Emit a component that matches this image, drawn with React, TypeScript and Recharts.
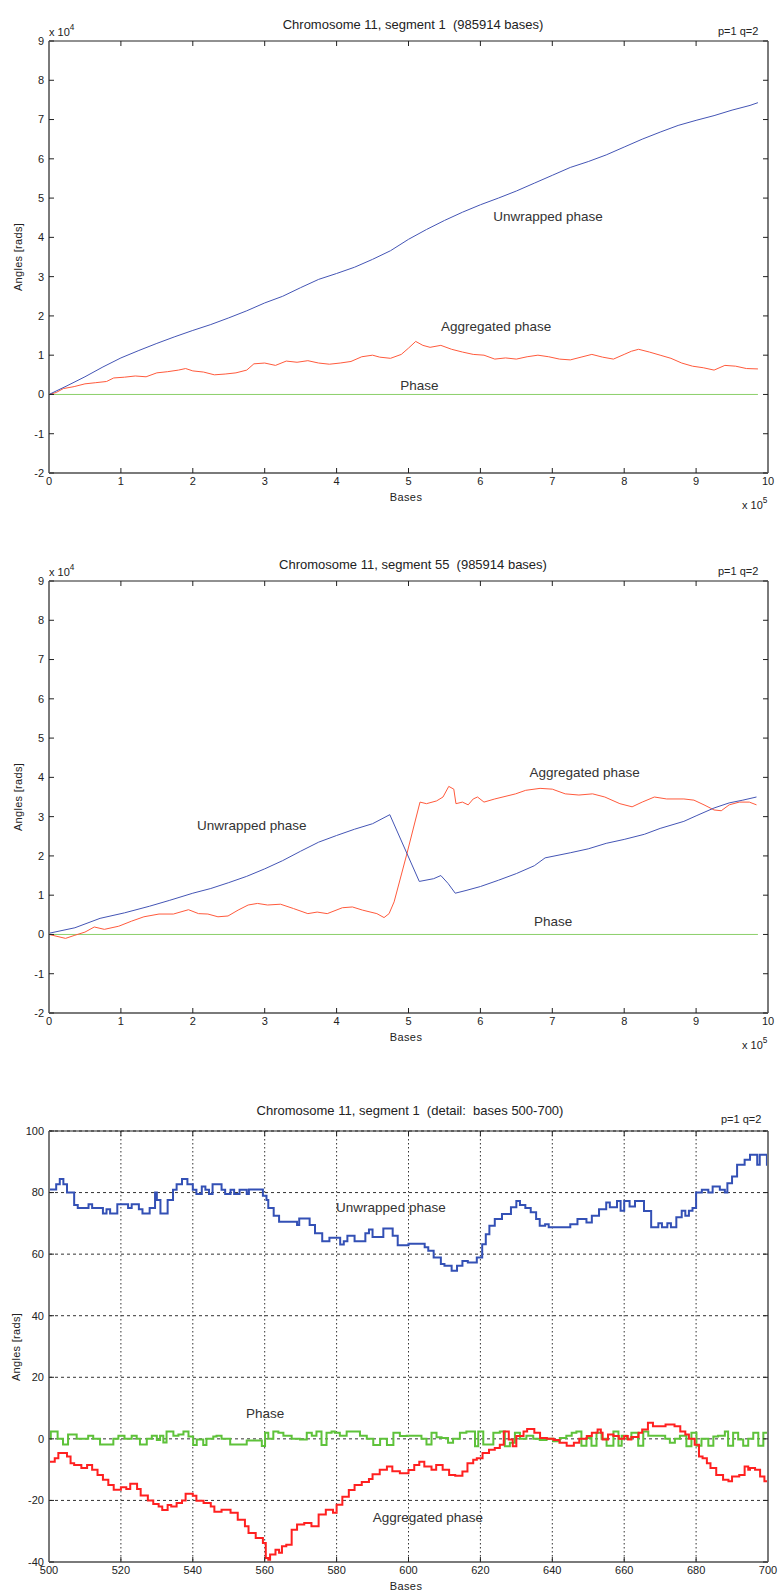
import React from 'react';
import { LineChart, Line, XAxis, YAxis, CartesianGrid, ReferenceDot } from 'recharts';

const FONT = '"Liberation Sans", Arial, Helvetica, sans-serif';

// ---------- shared ticks ----------
const bigXTicks = [0, 1, 2, 3, 4, 5, 6, 7, 8, 9, 10];
const bigYTicks = [-2, -1, 0, 1, 2, 3, 4, 5, 6, 7, 8, 9];
const detXTicks = [500, 520, 540, 560, 580, 600, 620, 640, 660, 680, 700];
const detYTicks = [-40, -20, 0, 20, 40, 60, 80, 100];

// ---------- Panel 1: segment 1 (x in 1e5 bases, y in 1e4 rads) ----------
const p1Unwrapped: [number, number][] = [
  [0, 0], [0.25, 0.22], [0.5, 0.45], [0.75, 0.7], [1, 0.93], [1.25, 1.12], [1.5, 1.3], [1.75, 1.47],
  [2, 1.63], [2.25, 1.78], [2.5, 1.95], [2.75, 2.13], [3, 2.33], [3.25, 2.5], [3.5, 2.72], [3.75, 2.93],
  [4, 3.08], [4.25, 3.24], [4.5, 3.44], [4.75, 3.66], [5, 3.95], [5.25, 4.2], [5.5, 4.43], [5.75, 4.64],
  [6, 4.83], [6.25, 5.0], [6.5, 5.18], [6.75, 5.38], [7, 5.58], [7.25, 5.78], [7.5, 5.93], [7.75, 6.1],
  [8, 6.3], [8.25, 6.5], [8.5, 6.68], [8.75, 6.85], [9, 6.98], [9.25, 7.1], [9.5, 7.24], [9.75, 7.36], [9.86, 7.43],
];
const p1Aggregated: [number, number][] = [
  [0, 0], [0.1, 0.05], [0.2, 0.15], [0.35, 0.2], [0.5, 0.27], [0.65, 0.3], [0.8, 0.33], [0.9, 0.42],
  [1.05, 0.44], [1.2, 0.47], [1.35, 0.45], [1.5, 0.55], [1.65, 0.58], [1.8, 0.62], [1.9, 0.66], [2.0, 0.6],
  [2.15, 0.57], [2.3, 0.5], [2.45, 0.52], [2.6, 0.55], [2.75, 0.62], [2.85, 0.78], [3.0, 0.8], [3.15, 0.74],
  [3.3, 0.85], [3.45, 0.82], [3.6, 0.86], [3.75, 0.8], [3.9, 0.77], [4.05, 0.8], [4.2, 0.84], [4.35, 0.96],
  [4.5, 1.0], [4.6, 0.95], [4.75, 0.92], [4.9, 1.02], [5.0, 1.18], [5.1, 1.35], [5.2, 1.25], [5.3, 1.2],
  [5.45, 1.25], [5.6, 1.15], [5.75, 1.08], [5.9, 1.02], [6.05, 1.0], [6.2, 0.9], [6.35, 0.93], [6.5, 0.9],
  [6.65, 0.96], [6.8, 1.0], [6.95, 0.96], [7.1, 0.9], [7.25, 0.88], [7.4, 0.95], [7.55, 1.02], [7.7, 0.95],
  [7.85, 0.9], [8.0, 1.02], [8.1, 1.1], [8.2, 1.15], [8.35, 1.08], [8.5, 1.0], [8.65, 0.92], [8.8, 0.8],
  [8.95, 0.72], [9.1, 0.68], [9.25, 0.62], [9.4, 0.74], [9.55, 0.72], [9.7, 0.66], [9.86, 0.65],
];
const p1Phase: [number, number][] = [[0, 0], [9.86, 0]];

// ---------- Panel 2: segment 55 ----------
const p2Unwrapped: [number, number][] = [
  [0, 0.03], [0.36, 0.17], [0.71, 0.41], [1.05, 0.55], [1.4, 0.72], [1.68, 0.87], [2, 1.05], [2.25, 1.17],
  [2.5, 1.32], [2.75, 1.48], [3, 1.67], [3.25, 1.88], [3.5, 2.12], [3.75, 2.35], [4, 2.52], [4.25, 2.68],
  [4.5, 2.82], [4.74, 3.05], [5.15, 1.35], [5.35, 1.42], [5.45, 1.5], [5.55, 1.3], [5.65, 1.05], [5.8, 1.12],
  [6, 1.22], [6.25, 1.38], [6.5, 1.55], [6.75, 1.75], [6.9, 1.95], [7.25, 2.08], [7.5, 2.18], [7.75, 2.32],
  [8, 2.42], [8.28, 2.55], [8.5, 2.7], [8.83, 2.88], [9, 3.02], [9.25, 3.22], [9.46, 3.35], [9.65, 3.42], [9.84, 3.5],
];
const p2Aggregated: [number, number][] = [
  [0, 0], [0.23, -0.1], [0.36, -0.02], [0.5, 0.06], [0.63, 0.19], [0.77, 0.13], [0.97, 0.21], [1.15, 0.34],
  [1.32, 0.45], [1.53, 0.52], [1.73, 0.52], [1.94, 0.63], [2.08, 0.53], [2.21, 0.52], [2.35, 0.45], [2.49, 0.47],
  [2.63, 0.62], [2.77, 0.75], [2.9, 0.79], [3.04, 0.75], [3.22, 0.77], [3.4, 0.66], [3.6, 0.53], [3.73, 0.57],
  [3.87, 0.53], [4.08, 0.68], [4.22, 0.7], [4.36, 0.62], [4.56, 0.53], [4.66, 0.43], [4.73, 0.53], [4.8, 0.83],
  [4.97, 2.0], [5.16, 3.37], [5.25, 3.33], [5.39, 3.4], [5.48, 3.5], [5.56, 3.77], [5.63, 3.7], [5.66, 3.33],
  [5.75, 3.37], [5.83, 3.3], [5.9, 3.45], [5.96, 3.5], [6.05, 3.37], [6.2, 3.45], [6.49, 3.58], [6.63, 3.67],
  [6.83, 3.72], [7.0, 3.7], [7.18, 3.58], [7.37, 3.55], [7.56, 3.58], [7.73, 3.5], [7.94, 3.33], [8.11, 3.25],
  [8.25, 3.37], [8.42, 3.5], [8.59, 3.45], [8.83, 3.45], [8.97, 3.42], [9.11, 3.3], [9.25, 3.17], [9.35, 3.15],
  [9.46, 3.3], [9.6, 3.37], [9.74, 3.37], [9.84, 3.3],
];
const p2Phase: [number, number][] = [[0, 0], [9.86, 0]];

// ---------- Panel 3: detail, bases 500-700 (step series) ----------
const p3Unwrapped: [number, number][] = [
  [500, 81], [502, 82.7], [503, 84.4], [504, 82.7], [505, 80], [507, 76], [508, 75], [511, 76.2], [512, 75],
  [515, 73.2], [516, 74.6], [517, 73.2], [519, 76.2], [522, 75], [523, 76.2], [525, 74.6], [526, 73.2], [528, 75],
  [529.5, 80], [530, 77.6], [531, 73.2], [533, 77.6], [534.5, 80.9], [535.5, 82.7], [537, 84.4], [538.5, 82.7],
  [540, 80.9], [541, 79.5], [542.5, 82], [543.5, 80.9], [544.5, 79.5], [545.5, 82.7], [548, 80.9], [549, 79.5],
  [550.5, 80.9], [551.5, 79.5], [553, 80.9], [555, 79.5], [555.6, 81], [559.5, 79], [560.5, 77.6], [561, 75],
  [562.5, 72.5], [564, 70.5], [569, 69.5], [569.6, 71.6], [572.5, 69.5], [574, 66.8], [576, 64.2], [578, 65.3],
  [581, 63.1], [582, 64.2], [583, 66], [585, 64.2], [588, 66.8], [589, 68], [590, 65.6], [593, 68.3], [595.6, 66],
  [597, 62.9], [600, 63.4], [604.5, 62.2], [605.5, 61.1], [607, 58.9], [609, 56.8], [610, 56.2], [612, 54.6],
  [613.5, 56.2], [615, 57.8], [616.5, 57.3], [619, 58.9], [620.5, 63.2], [621.5, 66.5], [622.5, 69.2], [624, 71.4],
  [626, 73], [628.5, 75.2], [630, 77.3], [631, 76], [632.5, 75], [634, 73.6], [635.5, 71.4], [636.5, 69.2],
  [638, 69.7], [639, 68.7], [645, 69.7], [647, 71.4], [649.5, 70.3], [651, 72.5], [653, 74.6], [655, 76.8],
  [656, 75.2], [658, 77.3], [659, 74.1], [660, 77.3], [661.5, 75.5], [663, 77.3], [665.5, 74], [667.5, 68.7],
  [669.5, 70], [670.5, 68.7], [672, 70], [673, 68.7], [674.5, 72], [676, 74.1], [677, 72.5], [678, 74.1],
  [679, 75], [680, 80], [681.6, 80.9], [683.4, 80], [684.6, 82], [686.6, 80.9], [688, 80], [688.7, 83],
  [690, 85.2], [691.4, 89], [693.5, 90.7], [695, 92.3], [697, 89], [697.7, 92.3], [699.7, 89], [700, 89],
];
const p3Aggregated: [number, number][] = [
  [500, -7.4], [501.6, -6.3], [502.6, -4.6], [505, -5.7], [506, -7.9], [507, -8.5], [509, -9.5], [510.6, -8.5],
  [512, -10], [513.5, -11.7], [515, -13.3], [516.5, -15], [518, -16.5], [520, -15.7], [521.5, -16.3], [522.6, -14.6],
  [524.5, -16.3], [525.5, -18.4], [527.5, -20], [529, -21.2], [530.5, -22], [531.5, -23.1], [533, -21.5], [534, -22],
  [535.5, -20.8], [537, -20], [538, -17.8], [540, -18.5], [541, -20.1], [543, -20.8], [545, -22], [546, -23.7],
  [548, -23], [550.5, -24], [552.5, -26.3], [554.5, -28.4], [555.5, -30.6], [557.5, -32.2], [559.5, -33.8],
  [560.3, -38.7], [561, -39.3], [561.5, -37.6], [563, -36], [564, -37], [564.8, -34.9], [566, -34.4],
  [567.5, -29.5], [569, -27.8], [571, -27.3], [573, -28.4], [575, -24.6], [577, -23], [579, -24], [580, -21.4],
  [581.6, -18.8], [583.4, -16.6], [585, -15], [587, -14], [589, -13], [590, -11.5], [592, -10], [594, -9],
  [595.5, -10.5], [597.6, -11.2], [600, -10.1], [601.6, -8.5], [603, -7.4], [604.4, -9], [606.4, -10],
  [607.7, -8.5], [609.5, -10], [611.3, -11.7], [613, -12], [615, -10.6], [616.4, -7.9], [618, -6.8], [619, -6.3],
  [620.6, -4.6], [622.4, -3.5], [624, -3], [625.4, -1.9], [626.5, 2.4], [627.9, -0.2], [629, -2.4], [630, 0.9],
  [632, 2.4], [633, 3.2], [635, 2], [636.6, 0.3], [638.5, 0], [640.4, -0.4], [642, -1.3], [644, -2.2],
  [646, -1.3], [647.5, 0], [649.6, 0.9], [651, 2], [652.6, 3], [653.5, 2], [654, -0.2], [655.5, 1.4], [657, 0.9],
  [658.5, 0], [660, 0.9], [661, -0.2], [662, 0.6], [664, 2], [665, 3], [666.6, 5.2], [668, 4.1], [671.5, 4.7],
  [674, 4.1], [675.6, 2.4], [677, 1.4], [678, 0], [679.6, -1.9], [680.8, -5.7], [681.8, -6.3], [683, -7.9],
  [684, -9.5], [685.6, -11.7], [687.5, -13.3], [689, -13.8], [690, -12.2], [692, -11.7], [693.5, -9],
  [694.5, -10], [695, -9.5], [696.4, -10], [697.8, -12.2], [699, -13.8], [700, -12],
];
const p3Phase: [number, number][] = [
  [500, 0], [500.5, 2.4], [502.4, 0], [503.9, -1.8], [505.3, 1.4], [507.7, 0], [510.9, 1], [512.3, 0],
  [514.2, -1.8], [517.9, 0], [519.3, 1], [521, 0], [523, 1], [524.4, 0], [525.3, -1.8], [527.2, 0], [528.6, 1],
  [530, -0.4], [530.9, 1], [531.8, -1.2], [532.7, 2.4], [534.6, 1], [536, 1.4], [537.4, 2.4], [538.8, 0.8],
  [540.1, -2], [541.1, -0.2], [542.9, -2], [543.8, 0], [545.7, 0.8], [546.6, 1], [548, 0], [550.4, -1.8],
  [555, -0.5], [559.2, -2.3], [560.1, 2], [561, 0], [562.4, 2.4], [563.8, 2], [565.2, 1], [567.5, 0],
  [569.8, -0.2], [571.7, 2], [573.1, 1], [574.4, 2.4], [575.8, -2], [577.2, 2], [578.6, 2.4], [579.5, 2],
  [580.9, 1], [582.8, 2.4], [586.5, 1], [588.4, 0], [590.2, -2], [592.1, 0], [594, -2], [595.8, 2],
  [597.6, 0.9], [599.5, 1], [603.6, 0], [605, -1.8], [606.4, 2], [607.8, 0.5], [609.2, 0.3], [611, -1.3],
  [612.4, 0], [614.3, 2], [616.1, 2.4], [618.5, -2.4], [619.4, 2.4], [620.8, -1.8], [623.6, 2], [625.4, 2.4],
  [626.8, -2.4], [628.2, -1.3], [629.6, 2], [631, 0], [632.8, 1], [634.7, 0], [636.5, -0.4], [638.4, 0],
  [640.2, -0.8], [642.1, 0.3], [643.9, 1], [645.4, 2], [646.7, 2.4], [648.1, -2.2], [649.5, 0.3], [650.9, -2.2],
  [652.3, 2], [653.7, 0], [655.1, -2.2], [657, 2.4], [658.4, -2.2], [659.3, 1], [660.7, 0], [662, 2],
  [663.9, -2.2], [665.3, 2.4], [666.7, 1], [671.4, 0], [672.7, -1.3], [674.1, 0], [675.5, 1], [677.3, -2.4],
  [678.7, 2], [680.1, -2.2], [681.5, 0], [683.4, -2.2], [684.8, 0.8], [686.1, 1], [688, 2.4], [688.9, -2.2],
  [690.3, 2], [691.7, -0.2], [693.1, -2.2], [694.5, 0], [695.9, 2], [697.3, -2.2], [698.7, 2], [700, 2],
];

const toPts = (arr: [number, number][]) => arr.map(([x, y]) => ({ x, y }));

type Series = { name: string; data: [number, number][]; color: string; width: number; step?: boolean };
type Note = { x: number; y: number; text: string };

const W = 778;
const PLOT_LEFT = 49;
const PLOT_RIGHT = 768;
const AXIS_GRAY = '#7a7a7a';

function Panel(props: {
  top: number; plotTop: number; plotBottom: number;
  xDomain: [number, number]; xTicks: number[]; yDomain: [number, number]; yTicks: number[];
  series: Series[]; notes: Note[]; grid?: boolean;
}) {
  const { top, plotTop, plotBottom, xDomain, xTicks, yDomain, yTicks, series, notes, grid } = props;
  const chartH = plotBottom - top + 40;
  const tickStyle = { fontSize: 11, fill: '#222', fontFamily: FONT };
  const noLabel = () => <g />;
  return (
    <div style={{ position: 'absolute', left: 0, top }}>
      <LineChart
        width={W}
        height={chartH}
        margin={{ top: plotTop - top - 1, right: W - PLOT_RIGHT - 1, bottom: 10, left: 0 }}
      >
        {grid && (
          <CartesianGrid xAxisId="b" yAxisId="l" vertical={false} stroke="#333" strokeDasharray="3 3" strokeWidth={1} />
        )}
        {grid && (
          <CartesianGrid xAxisId="b" yAxisId="l" horizontal={false} stroke="#333" strokeDasharray="1.5 2.5" strokeWidth={1} />
        )}
        <XAxis
          xAxisId="b" type="number" dataKey="x" domain={xDomain} ticks={xTicks} allowDataOverflow interval={0}
          height={30} tickSize={-5} tickMargin={9}
          axisLine={{ stroke: AXIS_GRAY, strokeWidth: 2 }} tickLine={{ stroke: '#222' }} tick={tickStyle}
        />
        <XAxis
          xAxisId="t" orientation="top" type="number" dataKey="x" domain={xDomain} ticks={xTicks} allowDataOverflow interval={0}
          height={1} tickSize={-5} axisLine={{ stroke: '#222', strokeWidth: 1 }} tickLine={{ stroke: '#222' }} tick={noLabel}
        />
        <YAxis
          yAxisId="l" type="number" domain={yDomain} ticks={yTicks} allowDataOverflow interval={0}
          width={PLOT_LEFT} tickSize={-5} tickMargin={10}
          axisLine={{ stroke: AXIS_GRAY, strokeWidth: 2 }} tickLine={{ stroke: '#222' }} tick={tickStyle}
        />
        <YAxis
          yAxisId="r" orientation="right" type="number" domain={yDomain} ticks={yTicks} allowDataOverflow interval={0}
          width={1} tickSize={-5} axisLine={{ stroke: AXIS_GRAY, strokeWidth: 2 }} tickLine={{ stroke: '#222' }} tick={noLabel}
        />
        {series.map((s) => (
          <Line
            key={s.name}
            xAxisId="b"
            yAxisId="l"
            data={toPts(s.data)}
            dataKey="y"
            type={s.step ? 'stepAfter' : 'linear'}
            stroke={s.color}
            strokeWidth={s.width}
            dot={false}
            activeDot={false}
            isAnimationActive={false}
          />
        ))}
        {notes.map((n) => (
          <ReferenceDot
            key={n.text}
            xAxisId="b"
            yAxisId="l"
            x={n.x}
            y={n.y}
            r={0}
            fill="none"
            stroke="none"
            ifOverflow="visible"
            label={{ value: n.text, position: 'center', fill: '#333', fontSize: 13.5, fontFamily: FONT }}
          />
        ))}
      </LineChart>
    </div>
  );
}

function T(props: { x: number; y: number; size: number; anchor?: 'left' | 'center'; rotate?: boolean; spacing?: number; children: React.ReactNode }) {
  const { x, y, size, anchor = 'center', rotate, spacing = 0, children } = props;
  const tx = anchor === 'center' ? '-50%' : '0';
  return (
    <div
      style={{
        position: 'absolute', left: x, top: y, fontFamily: FONT, fontSize: size, color: '#222',
        whiteSpace: 'nowrap', lineHeight: 1, letterSpacing: spacing,
        transform: `translate(${tx}, -50%)${rotate ? ' rotate(-90deg)' : ''}`,
      }}
    >
      {children}
    </div>
  );
}

function Exp({ base, power }: { base: string; power: string }) {
  return (
    <span>
      {base}
      <sup style={{ fontSize: '0.75em', position: 'relative', top: '-0.1em' }}>{power}</sup>
    </span>
  );
}

export default function App() {
  const blue = '#4455b5';
  const red = '#ff5a3c';
  const green = '#8ccf6a';
  return (
    <div style={{ position: 'absolute', left: 0, top: 0, width: W, height: 1593, background: '#fff' }}>
      {/* Panel 1 */}
      <T x={413} y={24} size={13}>Chromosome 11, segment 1&nbsp; (985914 bases)</T>
      <T x={718} y={31} size={11} anchor="left">p=1 q=2</T>
      <T x={49} y={31} size={11} anchor="left"><Exp base="x 10" power="4" /></T>
      <Panel
        top={0} plotTop={41} plotBottom={473}
        xDomain={[0, 10]} xTicks={bigXTicks} yDomain={[-2, 9]} yTicks={bigYTicks}
        series={[
          { name: 'Phase', data: p1Phase, color: green, width: 1 },
          { name: 'Aggregated phase', data: p1Aggregated, color: red, width: 1 },
          { name: 'Unwrapped phase', data: p1Unwrapped, color: blue, width: 1 },
        ]}
        notes={[
          { x: 6.94, y: 4.53, text: 'Unwrapped phase' },
          { x: 6.22, y: 1.73, text: 'Aggregated phase' },
          { x: 5.15, y: 0.23, text: 'Phase' },
        ]}
      />
      <T x={406} y={497} size={11} spacing={0.4}>Bases</T>
      <T x={742} y={504} size={11} anchor="left"><Exp base="x 10" power="5" /></T>
      <T x={18} y={257} size={11} spacing={0.3} rotate>Angles [rads]</T>

      {/* Panel 2 */}
      <T x={413} y={564} size={13}>Chromosome 11, segment 55&nbsp; (985914 bases)</T>
      <T x={718} y={571} size={11} anchor="left">p=1 q=2</T>
      <T x={49} y={571} size={11} anchor="left"><Exp base="x 10" power="4" /></T>
      <Panel
        top={540} plotTop={581} plotBottom={1013}
        xDomain={[0, 10]} xTicks={bigXTicks} yDomain={[-2, 9]} yTicks={bigYTicks}
        series={[
          { name: 'Phase', data: p2Phase, color: green, width: 1 },
          { name: 'Aggregated phase', data: p2Aggregated, color: red, width: 1 },
          { name: 'Unwrapped phase', data: p2Unwrapped, color: blue, width: 1 },
        ]}
        notes={[
          { x: 2.82, y: 2.78, text: 'Unwrapped phase' },
          { x: 7.45, y: 4.13, text: 'Aggregated phase' },
          { x: 7.01, y: 0.34, text: 'Phase' },
        ]}
      />
      <T x={406} y={1037} size={11} spacing={0.4}>Bases</T>
      <T x={742} y={1044} size={11} anchor="left"><Exp base="x 10" power="5" /></T>
      <T x={18} y={797} size={11} spacing={0.3} rotate>Angles [rads]</T>

      {/* Panel 3 */}
      <T x={410} y={1110} size={13}>Chromosome 11, segment 1&nbsp; (detail:&nbsp; bases 500-700)</T>
      <T x={721} y={1119} size={11} anchor="left">p=1 q=2</T>
      <Panel
        top={1090} plotTop={1131} plotBottom={1562}
        xDomain={[500, 700]} xTicks={detXTicks} yDomain={[-40, 100]} yTicks={detYTicks}
        grid
        series={[
          { name: 'Phase', data: p3Phase, color: '#5ec23a', width: 2, step: true },
          { name: 'Aggregated phase', data: p3Aggregated, color: '#ff2020', width: 2, step: true },
          { name: 'Unwrapped phase', data: p3Unwrapped, color: '#3350b5', width: 2, step: true },
        ]}
        notes={[
          { x: 595.1, y: 75.3, text: 'Unwrapped phase' },
          { x: 560.1, y: 8.4, text: 'Phase' },
          { x: 605.4, y: -25.4, text: 'Aggregated phase' },
        ]}
      />
      <T x={406} y={1586} size={11} spacing={0.4}>Bases</T>
      <T x={16} y={1347} size={11} spacing={0.3} rotate>Angles [rads]</T>
    </div>
  );
}
